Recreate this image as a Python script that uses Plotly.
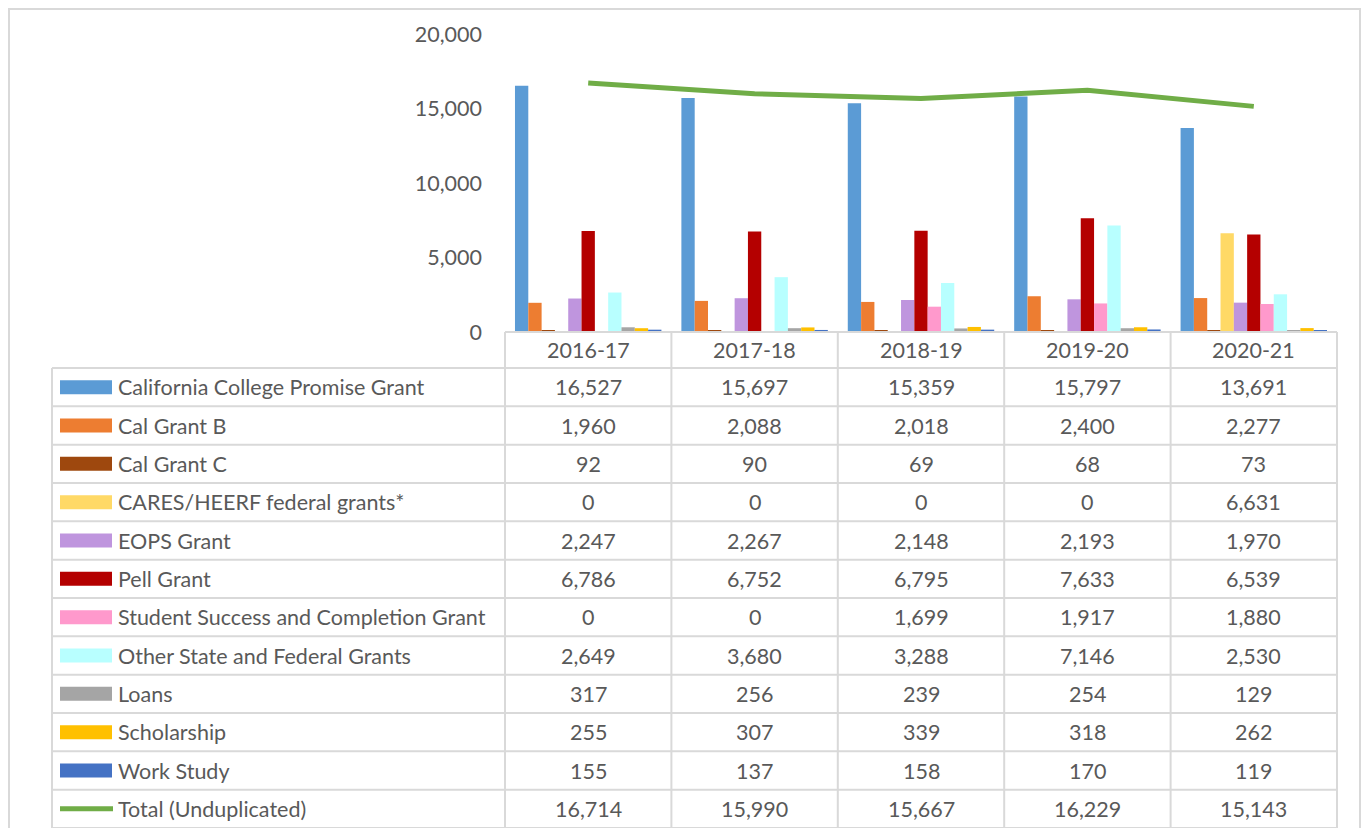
import plotly.graph_objects as go

# ---------------- data ----------------
years = ["2016-17", "2017-18", "2018-19", "2019-20", "2020-21"]

series_names = [
    "California College Promise Grant",
    "Cal Grant B",
    "Cal Grant C",
    "CARES/HEERF federal grants*",
    "EOPS Grant",
    "Pell Grant",
    "Student Success and Completion Grant",
    "Other State and Federal Grants",
    "Loans",
    "Scholarship",
    "Work Study",
]
ccpg = [16527, 15697, 15359, 15797, 13691]
cal_grant_b = [1960, 2088, 2018, 2400, 2277]
cal_grant_c = [92, 90, 69, 68, 73]
cares_heerf = [0, 0, 0, 0, 6631]
eops = [2247, 2267, 2148, 2193, 1970]
pell = [6786, 6752, 6795, 7633, 6539]
sscg = [0, 0, 1699, 1917, 1880]
other_grants = [2649, 3680, 3288, 7146, 2530]
loans = [317, 256, 239, 254, 129]
scholarship = [255, 307, 339, 318, 262]
work_study = [155, 137, 158, 170, 119]

total_name = "Total (Unduplicated)"
total = [16714, 15990, 15667, 16229, 15143]

y_ticks = [0, 5000, 10000, 15000, 20000]

# ---------------- styling ----------------
colors = ["#5B9BD5", "#ED7D31", "#9E480E", "#FFD966", "#BF95DE", "#B40000",
          "#FF99CC", "#B8FFFF", "#A5A5A5", "#FFC000", "#4472C4"]
line_color = "#70AD47"
text_color = "#595959"
border_color = "#D9D9D9"
FONT = "Lato"
FS = 21.5

W, H = 1353, 820
OFF = 8


def fx(X):
    return (X - OFF) / W


def fy(Y):
    return 1 - (Y - OFF) / H


series_values = [ccpg, cal_grant_b, cal_grant_c, cares_heerf, eops, pell,
                 sscg, other_grants, loans, scholarship, work_study]

fig = go.Figure()
for name, vals, col in zip(series_names, series_values, colors):
    fig.add_trace(go.Bar(x=years, y=vals, name=name, marker_color=col,
                         marker_line_width=0))
fig.add_trace(go.Scatter(x=years, y=total, name=total_name, mode="lines",
                         line=dict(color=line_color, width=5)))

# ---------------- table geometry (pixels) ----------------
plot_left, plot_right = 505, 1337
plot_top, plot_bottom = 34, 332
table_left = 52
header_bottom = 368
row_h = (828 - 368) / 12
col_edges = [plot_left + i * (plot_right - plot_left) / 5 for i in range(6)]

shapes = []
annotations = []


def hline(x0, x1, y):
    shapes.append(dict(type="line", xref="paper", yref="paper",
                       x0=fx(x0), x1=fx(x1), y0=fy(y), y1=fy(y),
                       line=dict(color=border_color, width=2)))


def vline(x, y0, y1):
    shapes.append(dict(type="line", xref="paper", yref="paper",
                       x0=fx(x), x1=fx(x), y0=fy(y0), y1=fy(y1),
                       line=dict(color=border_color, width=2)))


# outer chart frame
hline(7, 1363, 9)
vline(9, 9, 836)
vline(1360, 9, 836)

# header row top line
hline(plot_left, plot_right, plot_bottom)
# data rows
n_rows = len(series_names) + 1
for i in range(n_rows + 1):
    hline(table_left, plot_right, header_bottom + i * row_h)
vline(table_left, header_bottom, header_bottom + n_rows * row_h)
for xe in col_edges:
    vline(xe, plot_bottom, header_bottom + n_rows * row_h)

# header labels
for j, yr in enumerate(years):
    cx = (col_edges[j] + col_edges[j + 1]) / 2
    annotations.append(dict(x=fx(cx), y=fy((plot_bottom + header_bottom) / 2),
                            xref="paper", yref="paper", text=yr, showarrow=False,
                            xanchor="center", yanchor="middle",
                            font=dict(family=FONT, size=FS, color=text_color)))

all_names = series_names + [total_name]
all_vals = series_values + [total]
for i, (name, vals) in enumerate(zip(all_names, all_vals)):
    cy = header_bottom + (i + 0.5) * row_h
    if i < len(series_names):
        shapes.append(dict(type="rect", xref="paper", yref="paper",
                           x0=fx(60), x1=fx(112), y0=fy(cy - 7), y1=fy(cy + 7),
                           fillcolor=colors[i], line=dict(width=0)))
    else:
        shapes.append(dict(type="line", xref="paper", yref="paper",
                           x0=fx(60), x1=fx(113), y0=fy(cy), y1=fy(cy),
                           line=dict(color=line_color, width=5)))
    annotations.append(dict(x=fx(116), y=fy(cy), xref="paper", yref="paper",
                            text=name, showarrow=False, xanchor="left",
                            yanchor="middle",
                            font=dict(family=FONT, size=FS, color=text_color)))
    for j, v in enumerate(vals):
        cx = (col_edges[j] + col_edges[j + 1]) / 2
        annotations.append(dict(x=fx(cx), y=fy(cy), xref="paper", yref="paper",
                                text=f"{v:,}", showarrow=False,
                                xanchor="center", yanchor="middle",
                                font=dict(family=FONT, size=FS, color=text_color)))

fig.update_layout(
    width=W, height=H,
    margin=dict(l=0, r=0, t=0, b=0, autoexpand=False),
    paper_bgcolor="white", plot_bgcolor="white",
    barmode="group", bargap=0.12, bargroupgap=0,
    showlegend=False,
    font=dict(family=FONT, size=FS, color=text_color),
    xaxis=dict(domain=[fx(plot_left), fx(plot_right)], range=[-0.5, 4.5],
               showticklabels=False, showgrid=False, zeroline=False,
               showline=False, ticks="", automargin=False),
    yaxis=dict(domain=[fy(plot_bottom), fy(plot_top)], range=[0, 20000],
               tickvals=y_ticks, tickformat=",", showgrid=False,
               zeroline=False, showline=False, ticks="",
               ticklabelstandoff=22, automargin=False,
               tickfont=dict(family=FONT, size=FS, color=text_color)),
    shapes=shapes,
    annotations=annotations,
)

fig.write_html("out.html")
